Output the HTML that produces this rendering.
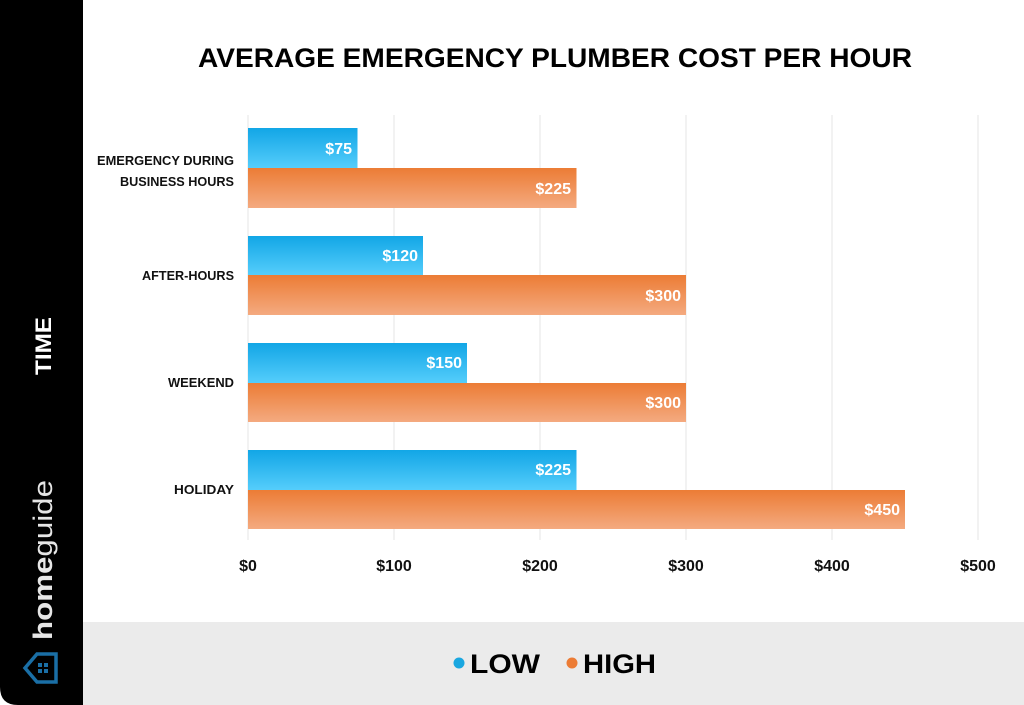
<!DOCTYPE html>
<html><head><style>html,body{margin:0;padding:0;background:#fff}svg{display:block}</style></head>
<body>
<svg width="1024" height="705" viewBox="0 0 1024 705" xmlns="http://www.w3.org/2000/svg" font-family="Liberation Sans, sans-serif">
<defs>
<linearGradient id="b" x1="0" y1="0" x2="0" y2="1"><stop offset="0" stop-color="#12a6e6"/><stop offset="1" stop-color="#55cdfb"/></linearGradient>
<linearGradient id="o" x1="0" y1="0" x2="0" y2="1"><stop offset="0" stop-color="#ec7c35"/><stop offset="1" stop-color="#f4aa80"/></linearGradient>
</defs>
<rect width="1024" height="705" fill="#fff"/>
<path d="M0 0H83V705H18Q0 705 0 687Z" fill="#000"/>
<rect x="83" y="622" width="941" height="83" fill="#ebebeb"/>
<text x="555" y="67" text-anchor="middle" font-size="27" font-weight="bold" textLength="714" lengthAdjust="spacingAndGlyphs">AVERAGE EMERGENCY PLUMBER COST PER HOUR</text>
<g stroke="#e6e6e6" stroke-width="1">
<line x1="394" y1="115" x2="394" y2="540"/><line x1="540" y1="115" x2="540" y2="540"/><line x1="686" y1="115" x2="686" y2="540"/><line x1="832" y1="115" x2="832" y2="540"/><line x1="978" y1="115" x2="978" y2="540"/>
<line x1="248" y1="115" x2="248" y2="540"/>
</g>
<g>
<rect x="248" y="128" width="109.5" height="40" fill="url(#b)"/><rect x="248" y="168" width="328.5" height="40" fill="url(#o)"/>
<rect x="248" y="236" width="175" height="39" fill="url(#b)"/><rect x="248" y="275" width="438" height="40" fill="url(#o)"/>
<rect x="248" y="343" width="219" height="40" fill="url(#b)"/><rect x="248" y="383" width="438" height="39" fill="url(#o)"/>
<rect x="248" y="450" width="328.5" height="40" fill="url(#b)"/><rect x="248" y="490" width="657" height="39" fill="url(#o)"/>
</g>
<g fill="#fff" font-size="16" font-weight="bold" text-anchor="end">
<text x="352" y="154">$75</text><text x="571" y="194">$225</text>
<text x="418" y="261">$120</text><text x="681" y="301">$300</text>
<text x="462" y="368">$150</text><text x="681" y="408">$300</text>
<text x="571" y="475">$225</text><text x="900" y="515">$450</text>
</g>
<g font-size="13" font-weight="bold" text-anchor="end" fill="#111">
<text x="234" y="165" textLength="137" lengthAdjust="spacingAndGlyphs">EMERGENCY DURING</text>
<text x="234" y="186" textLength="114" lengthAdjust="spacingAndGlyphs">BUSINESS HOURS</text>
<text x="234" y="280" textLength="92" lengthAdjust="spacingAndGlyphs">AFTER-HOURS</text>
<text x="234" y="387" textLength="66" lengthAdjust="spacingAndGlyphs">WEEKEND</text>
<text x="234" y="494" textLength="60" lengthAdjust="spacingAndGlyphs">HOLIDAY</text>
</g>
<g font-size="16" font-weight="bold" text-anchor="middle" fill="#111">
<text x="248" y="571">$0</text><text x="394" y="571">$100</text><text x="540" y="571">$200</text><text x="686" y="571">$300</text><text x="832" y="571">$400</text><text x="978" y="571">$500</text>
</g>
<circle cx="459" cy="663" r="5.5" fill="#1aa7e0"/>
<text x="470" y="673" font-size="27" font-weight="bold" textLength="70" lengthAdjust="spacingAndGlyphs">LOW</text>
<circle cx="572" cy="663" r="5.5" fill="#ec7c35"/>
<text x="583" y="673" font-size="27" font-weight="bold" textLength="73" lengthAdjust="spacingAndGlyphs">HIGH</text>
<text transform="translate(51,346) rotate(-90)" text-anchor="middle" font-size="22" font-weight="bold" fill="#fff" textLength="58" lengthAdjust="spacingAndGlyphs">TIME</text>
<text transform="translate(52,640) rotate(-90)" font-size="27" fill="#e6e6e6" textLength="160" lengthAdjust="spacingAndGlyphs"><tspan font-weight="bold">home</tspan>guide</text>
<path d="M56 654V682H37L25 668L37 654Z" fill="none" stroke="#1a6fa6" stroke-width="3.5"/>
<rect x="38" y="663" width="4" height="4" fill="#1a6fa6"/><rect x="44" y="663" width="4" height="4" fill="#1a6fa6"/>
<rect x="38" y="669" width="4" height="4" fill="#1a6fa6"/><rect x="44" y="669" width="4" height="4" fill="#1a6fa6"/>
</svg>
</body></html>
